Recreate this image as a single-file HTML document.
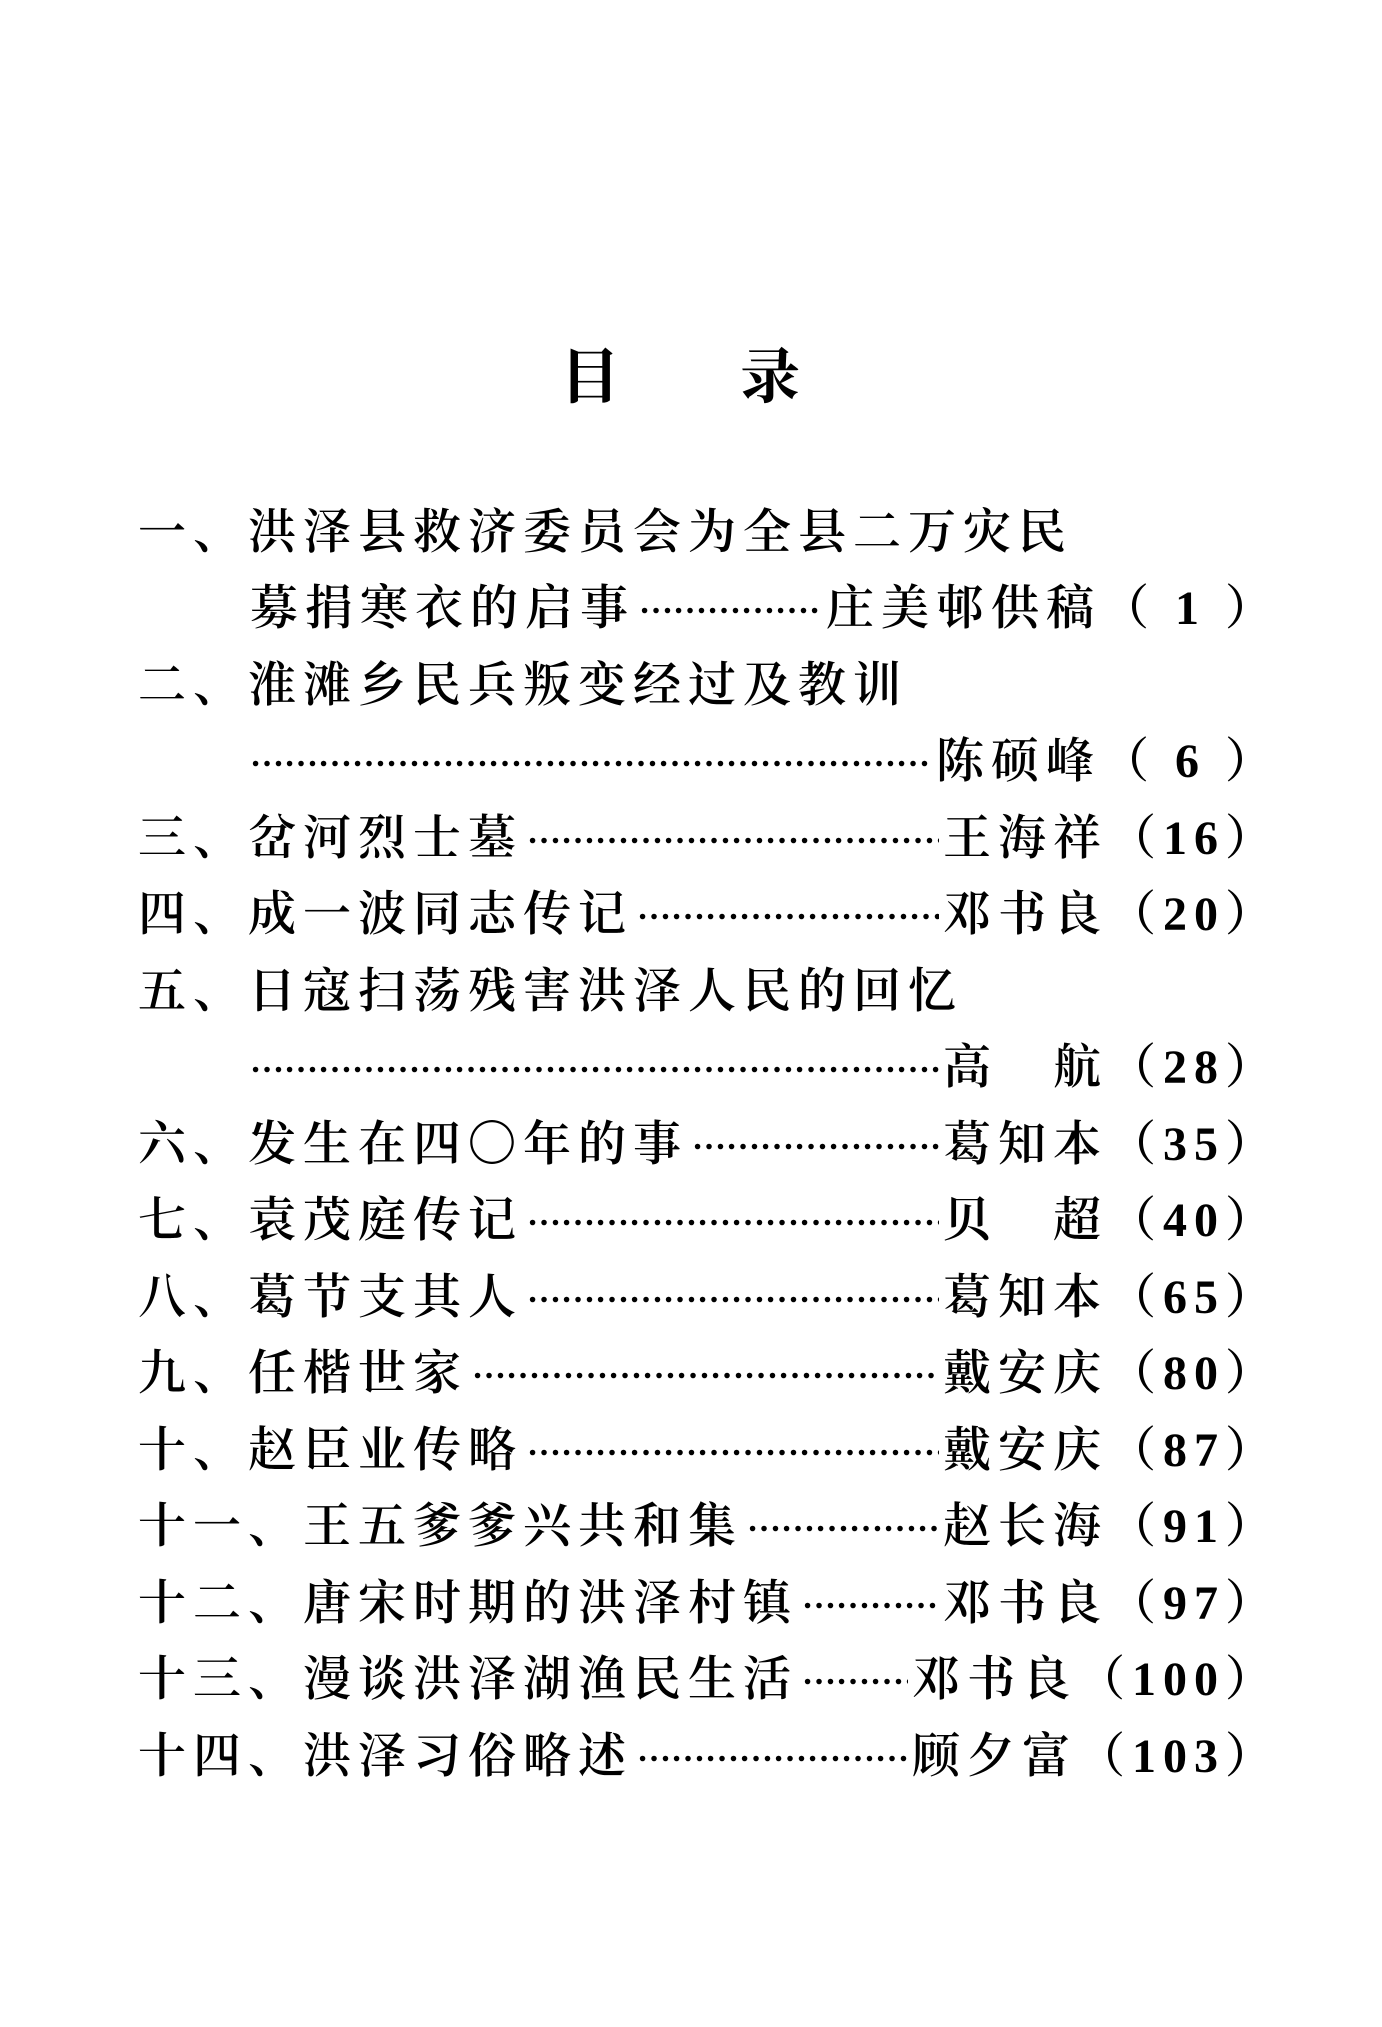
<!DOCTYPE html>
<html><head><meta charset="utf-8"><style>
html,body{margin:0;padding:0;background:#fff;}
body{width:1382px;height:2027px;position:relative;overflow:hidden;font-family:"Liberation Serif","Noto Serif CJK SC",serif;color:#000;}
.t{position:absolute;top:330px;font-size:60px;font-weight:bold;}
.l{position:absolute;left:138px;width:1142px;height:60px;display:flex;align-items:center;font-size:48px;letter-spacing:7px;white-space:nowrap;font-weight:600;}
.l.i{left:250px;width:1030px;}
.d{flex:1;overflow:hidden;letter-spacing:0;font-size:34px;margin:0 4px;font-weight:bold;}
.r{flex:none;}
</style></head><body>
<div class="t" style="left:560px">目</div>
<div class="t" style="left:740px">录</div>

<div class="l" style="top:497px"><span>一、洪泽县救济委员会为全县二万灾民</span></div>
<div class="l i" style="top:573px"><span>募捐寒衣的启事</span><span class="d">…………………………………………………………………</span><span class="r">庄美邨供稿（ 1 ）</span></div>
<div class="l" style="top:650px"><span>二、淮滩乡民兵叛变经过及教训</span></div>
<div class="l i" style="top:726px"><span class="d" style="margin-left:0">…………………………………………………………………………………………………</span><span class="r">陈硕峰（ 6 ）</span></div>
<div class="l" style="top:803px"><span>三、岔河烈士墓</span><span class="d">…………………………………………………………………………</span><span class="r">王海祥（16）</span></div>
<div class="l" style="top:879px"><span>四、成一波同志传记</span><span class="d">…………………………………………………………………………</span><span class="r">邓书良（20）</span></div>
<div class="l" style="top:956px"><span>五、日寇扫荡残害洪泽人民的回忆</span></div>
<div class="l i" style="top:1032px"><span class="d" style="margin-left:0">…………………………………………………………………………………………………</span><span class="r">高　航（28）</span></div>
<div class="l" style="top:1109px"><span>六、发生在四〇年的事</span><span class="d">…………………………………………………………………………</span><span class="r">葛知本（35）</span></div>
<div class="l" style="top:1185px"><span>七、袁茂庭传记</span><span class="d">…………………………………………………………………………</span><span class="r">贝　超（40）</span></div>
<div class="l" style="top:1262px"><span>八、葛节支其人</span><span class="d">…………………………………………………………………………</span><span class="r">葛知本（65）</span></div>
<div class="l" style="top:1338px"><span>九、任楷世家</span><span class="d">…………………………………………………………………………</span><span class="r">戴安庆（80）</span></div>
<div class="l" style="top:1415px"><span>十、赵臣业传略</span><span class="d">…………………………………………………………………………</span><span class="r">戴安庆（87）</span></div>
<div class="l" style="top:1491px"><span>十一、王五爹爹兴共和集</span><span class="d">…………………………………………………………………………</span><span class="r">赵长海（91）</span></div>
<div class="l" style="top:1568px"><span>十二、唐宋时期的洪泽村镇</span><span class="d">…………………………………………………………………………</span><span class="r">邓书良（97）</span></div>
<div class="l" style="top:1644px"><span>十三、漫谈洪泽湖渔民生活</span><span class="d">…………………………………………………………………………</span><span class="r">邓书良（100）</span></div>
<div class="l" style="top:1721px"><span>十四、洪泽习俗略述</span><span class="d">…………………………………………………………………………</span><span class="r">顾夕富（103）</span></div>
</body></html>
